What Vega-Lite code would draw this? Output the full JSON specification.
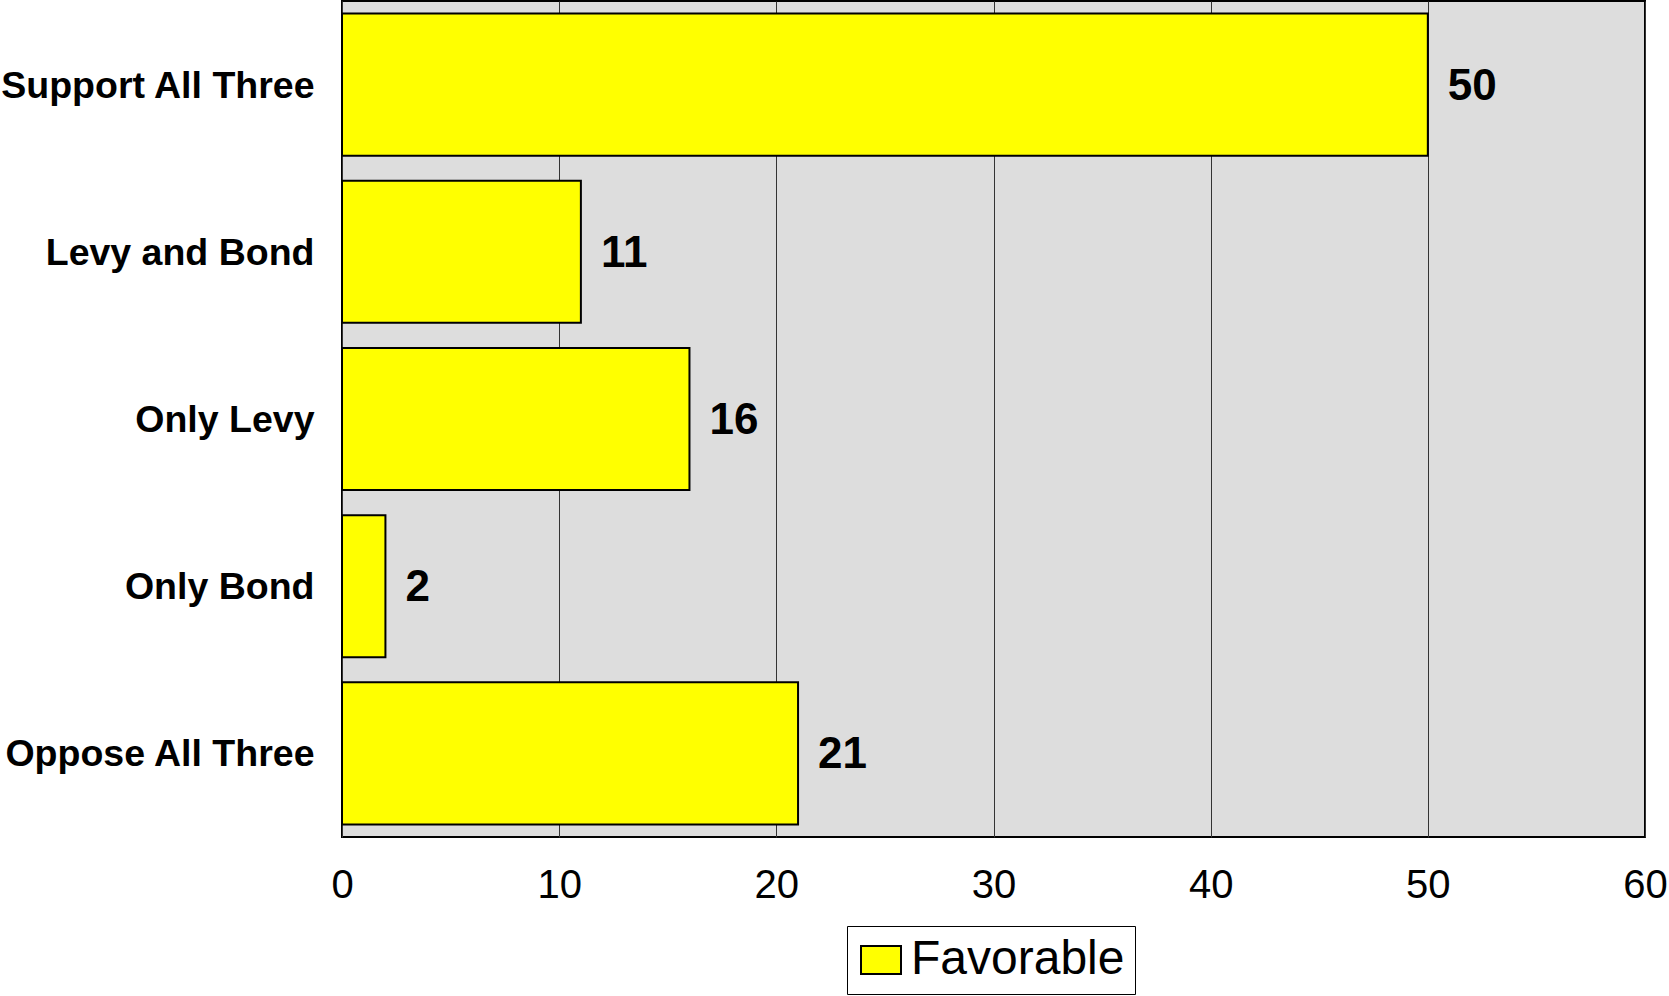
{
  "$schema": "https://vega.github.io/schema/vega-lite/v6.json",
  "autosize": "none",
  "width": 1303,
  "height": 836,
  "padding": {"left": 342, "top": 1, "right": 24, "bottom": 159},
  "background": "white",
  "config": {
    "font": "Liberation Sans",
    "view": {"fill": "#DDDDDD", "stroke": "black", "strokeWidth": 2}
  },
  "data": {
    "values": [
      {"category": "Support All Three", "value": 50, "series": "Favorable"},
      {"category": "Levy and Bond", "value": 11, "series": "Favorable"},
      {"category": "Only Levy", "value": 16, "series": "Favorable"},
      {"category": "Only Bond", "value": 2, "series": "Favorable"},
      {"category": "Oppose All Three", "value": 21, "series": "Favorable"}
    ]
  },
  "encoding": {
    "y": {
      "field": "category",
      "type": "nominal",
      "sort": null,
      "scale": {"paddingInner": 0.15, "paddingOuter": 0.075},
      "axis": {
        "title": null,
        "domain": false,
        "ticks": false,
        "labelFont": "Liberation Sans",
        "labelFontWeight": "bold",
        "labelFontSize": 37.5,
        "labelColor": "black",
        "labelPadding": 28,
        "labelLimit": 500,
        "labelOffset": 2
      }
    },
    "x": {
      "field": "value",
      "type": "quantitative",
      "scale": {"domain": [0, 60], "nice": false},
      "axis": {
        "title": null,
        "values": [0, 10, 20, 30, 40, 50, 60],
        "domain": false,
        "ticks": false,
        "grid": true,
        "gridColor": "#333333",
        "gridWidth": 1,
        "gridOpacity": 1,
        "labelFont": "Liberation Sans",
        "labelFontSize": 40,
        "labelColor": "black",
        "labelPadding": 28,
        "labelFlush": false
      }
    }
  },
  "layer": [
    {
      "mark": {"type": "bar", "stroke": "black", "strokeWidth": 2},
      "encoding": {
        "color": {
          "field": "series",
          "type": "nominal",
          "scale": {"domain": ["Favorable"], "range": ["#FFFF00"]},
          "legend": {
            "title": null,
            "orient": "none",
            "legendX": 505,
            "legendY": 925,
            "strokeColor": "black",
            "fillColor": "white",
            "padding": 10,
            "symbolType": "M-1,-0.7H1V0.7H-1Z",
            "symbolSize": 1600,
            "symbolStrokeColor": "black",
            "symbolStrokeWidth": 2,
            "symbolOpacity": 1,
            "labelFont": "Liberation Sans",
            "labelFontSize": 48,
            "labelColor": "black",
            "labelOffset": 6,
            "labelLimit": 600
          }
        }
      }
    },
    {
      "mark": {
        "type": "text",
        "align": "left",
        "baseline": "middle",
        "dx": 20,
        "dy": 2,
        "font": "Liberation Sans",
        "fontWeight": "bold",
        "fontSize": 44,
        "color": "black"
      },
      "encoding": {"text": {"field": "value", "type": "quantitative"}}
    }
  ]
}
